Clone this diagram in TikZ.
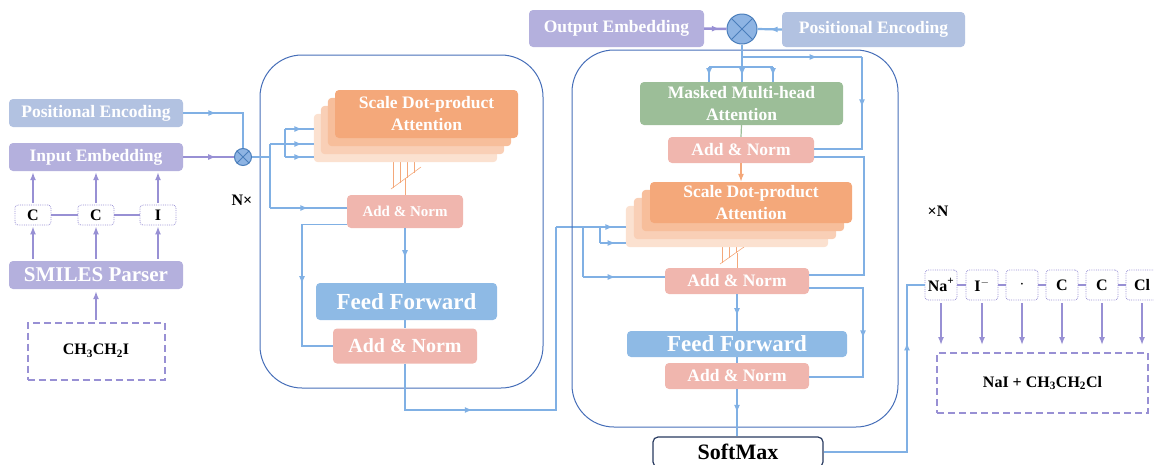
\documentclass[tikz,border=0pt]{standalone}
\usepackage{fontspec}
\setmainfont{Liberation Serif}
\usetikzlibrary{arrows.meta,decorations.markings,backgrounds,positioning}

\definecolor{posblue}{RGB}{178,194,225}
\definecolor{embpurple}{RGB}{180,176,221}
\definecolor{attnorange}{RGB}{244,168,122}
\definecolor{normpink}{RGB}{240,182,174}
\definecolor{ffblue}{RGB}{142,186,229}
\definecolor{maskgreen}{RGB}{156,190,152}
\definecolor{linkblue}{RGB}{128,176,228}
\definecolor{frameblue}{RGB}{70,110,184}
\definecolor{tokpurple}{RGB}{152,144,212}
\definecolor{mixblue}{RGB}{142,180,227}
\definecolor{mixedge}{RGB}{74,126,187}
\definecolor{smnavy}{RGB}{40,58,96}

\begin{document}
\begin{tikzpicture}[x=1pt, y=-1pt,
    box/.style={rounded corners=4pt, text=white, align=center, inner sep=1pt},
    posenc/.style={box, fill=posblue, font=\bfseries\fontsize{17.5}{19}\selectfont},
    embed/.style={box, fill=embpurple, font=\bfseries\fontsize{17.5}{19}\selectfont},
    attn/.style={box, fill=attnorange, font=\bfseries\fontsize{17.5}{22}\selectfont},
    addnorm/.style={box, fill=normpink, font=\bfseries\fontsize{17.5}{19}\selectfont},
    ffwd/.style={box, fill=ffblue, font=\bfseries\fontsize{23}{25}\selectfont},
    token/.style={draw=tokpurple, densely dotted, line width=.8pt, rounded corners=3pt,
        minimum width=36pt, minimum height=20pt, inner sep=0pt,
        font=\bfseries\fontsize{16}{18}\selectfont},
    molbox/.style={draw=tokpurple, line width=2pt, dash pattern=on 7pt off 4pt,
        font=\bfseries\fontsize{16}{18}\selectfont},
    mixer/.style={circle, fill=mixblue, draw=mixedge, line width=1pt, inner sep=0pt},
    blockframe/.style={draw=frameblue, line width=1pt, rounded corners=42pt},
    link/.style={color=linkblue, line width=1.5pt},
    tokline/.style={color=tokpurple, line width=1.5pt},
    merge/.style={color=attnorange, line width=.6pt},
    tipat/.style={postaction={decorate}, decoration={markings,
        mark=at position #1 with {\arrow{Latex[length=8pt,width=6pt]}}}},
    tipend/.style={-{Latex[length=8pt,width=6pt]}}
]
\useasboundingbox (0,0) rectangle (1154,464);
\clip (0,0) rectangle (1154,464);

% input side
\node[posenc, minimum width=174pt, minimum height=28pt] (pe1) at (96,113) {Positional Encoding};
\node[embed, minimum width=174pt, minimum height=28pt] (emb1) at (96,157) {Input Embedding};
\node[token] (c1) at (33,215) {C};
\node[token] (c2) at (96,215) {C};
\node[token] (i1) at (158,215) {I};
\node[embed, minimum width=174pt, minimum height=28pt, font=\bfseries\fontsize{21}{23}\selectfont] (parser) at (96,275) {SMILES Parser};
\node[molbox, minimum width=137pt, minimum height=57pt] (mol) at (96,351) {CH\textsubscript{3}CH\textsubscript{2}I};
\node[mixer, minimum size=17pt] (mx1) at (243,157) {};
\draw[mixedge, line width=1pt] (mx1.45) -- (mx1.225) (mx1.135) -- (mx1.315);
\node[font=\bfseries\fontsize{16}{18}\selectfont] (nx) at (242,200) {N×};

\draw[tokline] (c1) -- (c2) -- (i1);
\foreach \t in {c1,c2,i1} {
    \draw[tokline, tipend, shorten >=1pt, shorten <=2pt] (parser.north -| \t) -- (\t.south);
    \draw[tokline, tipend, shorten >=1pt, shorten <=2pt] (\t.north) -- (emb1.south -| \t);
}
\draw[tokline, tipend, shorten >=2pt, shorten <=2pt] (mol.north) -- (parser.south);
\draw[link, line width=2.2pt, tipat=.35] (pe1.east) -| (mx1.north);
\draw[tokline, line width=2.2pt, tipat=.65] (emb1.east) -- (mx1.west);

% encoder
\draw[blockframe] (260,55) rectangle (543,388);
\node[attn, minimum width=183pt, minimum height=48pt] (sdpa1) at (426.5,114) {Scale Dot-product\\Attention};
\node[addnorm, minimum width=116pt, minimum height=33pt, font=\bfseries\fontsize{15}{17}\selectfont] (an1) at (405,211.5) {Add \& Norm};
\node[ffwd, minimum width=181pt, minimum height=37pt] (ff1) at (406.5,301.5) {Feed Forward};
\node[addnorm, minimum width=144pt, minimum height=35pt, font=\bfseries\fontsize{20}{22}\selectfont] (an2) at (405,346) {Add \& Norm};
\begin{scope}[on background layer]
    \foreach \j in {0,...,3} \draw[merge] ({393+7*\j},150) -- ({393+7*\j},{188-5*\j});
    \draw[merge] (391,189) -- (421,167);
    \foreach \k/\c in {3/35,2/55,1/75}
        \fill[attnorange!\c, rounded corners=4pt] ([shift={({-7*\k},{8*\k})}]sdpa1.north west) rectangle ([shift={({-7*\k},{8*\k})}]sdpa1.south east);
\end{scope}
\draw[merge] (an1.north |- 0,178) -- (an1.north);

\draw[link] (mx1.east) -- (270,157);
\draw[link] (270,144) -- (270,208);
\draw[link] (270,144) -- (285,144);
\draw[link] (285,129) -- (285,157);
\foreach \y in {129,144,157} \draw[link, tipat=.6] (285,\y) -- (314,\y);
\draw[link, tipat=.5] (270,208) -- (an1.west |- 270,208);
\draw[link, tipat=.53] ([yshift=-13pt]an1.west) -| (302,346) -- (an2.west);
\draw[link, tipat=.55] (an1.south) -- (an1.south |- ff1.north);
\draw[link] (an2.north |- ff1.south) -- (an2.north);
\draw[link, tipat=.3] (an2.south) |- (556,410) -- (556,227);
\draw[link, tipat=.82] (556,227) -- (626,227);

% decoder
\draw[blockframe] (572,50) rectangle (898,427);
\node[embed, minimum width=175pt, minimum height=37pt] (oe) at (616.5,28.5) {Output Embedding};
\node[mixer, minimum size=30pt] (mx2) at (742,29) {};
\draw[mixedge, line width=1pt] (mx2.45) -- (mx2.225) (mx2.135) -- (mx2.315);
\node[posenc, minimum width=183pt, minimum height=35pt] (pe2) at (873.5,29.5) {Positional Encoding};
\draw[tokline, line width=2.5pt, tipat=.7] (oe.east) -- (mx2.west);
\draw[link, line width=2.2pt, tipat=.5] (pe2.west) -- (mx2.east);

\node[box, fill=maskgreen, minimum width=203pt, minimum height=43pt, font=\bfseries\fontsize{17.5}{22}\selectfont] (mma) at (741.5,103.5) {Masked Multi-head\\Attention};
\node[addnorm, minimum width=146pt, minimum height=26pt] (an3) at (741,150) {Add \& Norm};
\node[attn, minimum width=202pt, minimum height=41pt] (sdpa2) at (751,202.5) {Scale Dot-product\\Attention};
\node[addnorm, minimum width=144pt, minimum height=26pt] (an4) at (737,281) {Add \& Norm};
\node[ffwd, minimum width=220pt, minimum height=26pt] (ff2) at (737,344) {Feed Forward};
\node[addnorm, minimum width=144pt, minimum height=26pt] (an5) at (737,376) {Add \& Norm};
\node[draw=smnavy, fill=white, line width=1.2pt, rounded corners=5pt, minimum width=170pt, minimum height=30pt, font=\bfseries\fontsize{22}{24}\selectfont] (sm) at (738,452) {SoftMax};
\begin{scope}[on background layer]
    \foreach \j in {0,...,3} \draw[merge] ({722+7*\j},230) -- ({722+7*\j},{263-5*\j});
    \draw[merge] (720,264) -- (751,242);
    \foreach \k/\c in {3/35,2/55,1/75}
        \fill[attnorange!\c, rounded corners=4pt] ([shift={({-8*\k},{8*\k})}]sdpa2.north west) rectangle ([shift={({-8*\k},{8*\k})}]sdpa2.south east);
\end{scope}
\draw[merge] (an4.north |- 0,253) -- (an4.north);

\draw[link] (mx2.south) -- (742,67);
\draw[link] (709,67) -- (773,67);
\foreach \x in {709,742,773} \draw[link, tipat=.6] (\x,67) -- (\x,82);
\draw[link, tipat=.63] (742,57) -- (862,57);
\draw[link, tipat=.36] (862,57) -- (862,149) -- (an3.east |- 862,149);
\draw[maskgreen, line width=1.2pt] (mma.south) -- (an3.north);
\draw[attnorange, line width=1.2pt, tipend] (an3.south) -- (an3.south |- sdpa2.north);
\draw[link] ([yshift=-7pt]an3.east) -| (864,275) -- (an4.east |- 864,275);

\draw[link] (600,227) -- (600,243);
\draw[link, tipat=.6] (600,243) -- (626,243);
\draw[link] (583,227) -- (583,277);
\draw[link, tipat=.4] (583,277) -- (an4.west |- 583,277);
\draw[link, tipat=.6] (an4.south) -- (an4.south |- ff2.north);
\draw[link] (ff2.south) -- (an5.north);
\draw[link, tipat=.53] ([yshift=-7pt]an4.east) -| (863,377) -- (an5.east |- 863,377);
\draw[link, tipat=.5] (an5.south) -- (an5.south |- sm.north);
\node[font=\bfseries\fontsize{16}{18}\selectfont] (xn) at (938,211) {×N};

% output side
\node[token, minimum width=32pt, minimum height=30pt] (na) at (941,285) {Na\textsuperscript{+}};
\node[token, minimum width=32pt, minimum height=30pt] (iminus) at (982,285) {I\textsuperscript{$-$}};
\node[token, minimum width=32pt, minimum height=30pt] (dot) at (1022,285) {$\cdot$};
\node[token, minimum width=32pt, minimum height=30pt] (cc1) at (1062,285) {C};
\node[token, minimum width=32pt, minimum height=30pt] (cc2) at (1102,285) {C};
\node[token, minimum width=32pt, minimum height=30pt] (cl) at (1142,285) {Cl};
\node[molbox, minimum width=211pt, minimum height=60pt] (prod) at (1042.5,383) {NaI~+~CH\textsubscript{3}CH\textsubscript{2}Cl};
\draw[tokline] (na) -- (iminus) -- (dot) -- (cc1) -- (cc2) -- (cl);
\foreach \t in {na,iminus,dot,cc1,cc2,cl}
    \draw[tokline, tipend, shorten <=3pt, shorten >=7pt] (\t.south) -- (\t.south |- prod.north);
\draw[link, line width=2.8pt, tipat=.72] (sm.east) -| (907,285) -- (na.west);
\end{tikzpicture}
\end{document}
